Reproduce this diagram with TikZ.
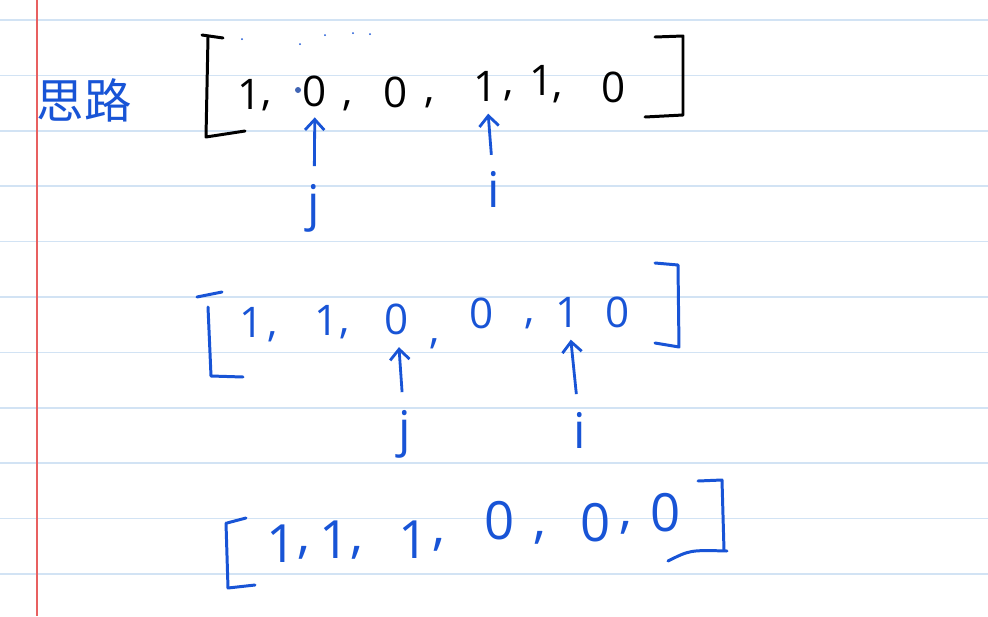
\documentclass[tikz,border=0pt]{standalone}
\usepackage{fontspec}
\setmainfont{Open Sans}
\newfontfamily\cjk{Noto Sans CJK SC}
\usepackage{xcolor}
\usetikzlibrary{arrows.meta}
\definecolor{pen}{RGB}{24,84,214}
\definecolor{ruleline}{RGB}{210,227,244}
\definecolor{marginline}{RGB}{232,96,96}

\begin{document}
\begin{tikzpicture}[x=0.02cm,y=-0.02cm,
		ink/.style={line width=1.7pt,line cap=round,line join=round},
		dig/.style={inner sep=1pt,font=\fontsize{24}{28}\selectfont},
		bigdig/.style={inner sep=0pt,font=\fontsize{30}{34}\selectfont},
		lbl/.style={inner sep=1pt,text=pen,font=\fontsize{28}{32}\selectfont},
		ptr/.style={pen,line width=1.6pt,-{Straight Barb[length=6pt,width=11pt]}}]
			\useasboundingbox[fill=white] (0,0) rectangle (988,616);
			\foreach \k in {0,...,10}
				\draw[ruleline,line width=0.9pt] (0,{20+55.4*\k}) -- (988,{20+55.4*\k});
			\draw[marginline,line width=0.6pt] (37,0) -- (37,616);

			\node[text=pen,inner sep=0pt,font=\cjk\fontsize{27}{30}\selectfont] (title) at (84,100) {思路};

			% first row
			\draw[ink] (202,35) -- (223,38);
			\draw[ink] (208,37) -- (206,137) -- (245,131);
			\draw[ink] (655,37) -- (683,36) -- (683,115) -- (645,117);
			\foreach \n/\x/\y/\t in {1/250/94/1,2/315/91/0,3/396/92/0,4/486/86/1,5/542/80/1,6/614/87/0}
				\node[dig] (r1d\n) at (\x,\y) {\t};
			\foreach \n/\x/\y in {1/267/106,2/348/106,3/430/103,4/509/96,5/558/98}
				\node[dig] (r1c\n) at (\x,\y) {,};
			\foreach \x/\y in {242/39,300/44,325/35,353/33,370/34}
				\fill[pen] (\x,\y) circle (1);
			\fill[pen!60!gray] (298,90) circle (3);
			\node[lbl] (j1) at (314,208) {j};
			\node[lbl] (i1) at (494,189) {i};
			\draw[ptr,shorten <=9pt,shorten >=5pt] (j1) -- (r1d2);
			\draw[ptr,shorten <=8pt,shorten >=6pt] (i1) -- (r1d4);

			% second row
			\begin{scope}[pen]
			\draw[ink] (197,297) -- (222,292);
			\draw[ink] (208,307) -- (211,376) -- (243,377);
			\draw[ink] (655,263) -- (678,265) -- (679,347) -- (655,343);
			\end{scope}
			\foreach \n/\x/\y/\t in {1/252/322/1,2/327/320/1,3/397/319/0,4/482/313/0,5/568/312/1,6/618/312/0}
				\node[dig,text=pen] (r2d\n) at (\x,\y) {\t};
			\foreach \n/\x/\y in {1/273/337,2/345/334,3/435/344,4/530/324}
				\node[dig,text=pen] (r2c\n) at (\x,\y) {,};
			\node[lbl] (j2) at (405,434) {j};
			\node[lbl] (i2) at (580,430) {i};
			\draw[ptr,shorten <=9pt,shorten >=6pt] (j2) -- (r2d3);
			\draw[ptr,shorten <=9pt,shorten >=6pt] (i2) -- (r2d5);

			% third row
			\begin{scope}[pen]
			\draw[ink] (227,523) -- (246,518);
			\draw[ink] (226,523) -- (228,588) -- (255,585);
			\draw[ink] (698,481) -- (722,480) -- (724,550);
			\draw[ink] (668,561) .. controls (690,550) .. (727,551);
			\end{scope}
			\foreach \n/\x/\y/\t in {1/282/544/1,2/335/540/1,3/414/540/1,4/500/521/0,5/596/523/0,6/666/513/0}
				\node[bigdig,text=pen] (r3d\n) at (\x,\y) {\t};
			\foreach \n/\x/\y in {1/304/553,2/357/553,3/439/545,4/540/538,5/626/528}
				\node[bigdig,text=pen] (r3c\n) at (\x,\y) {,};
		\end{tikzpicture}
\end{document}
